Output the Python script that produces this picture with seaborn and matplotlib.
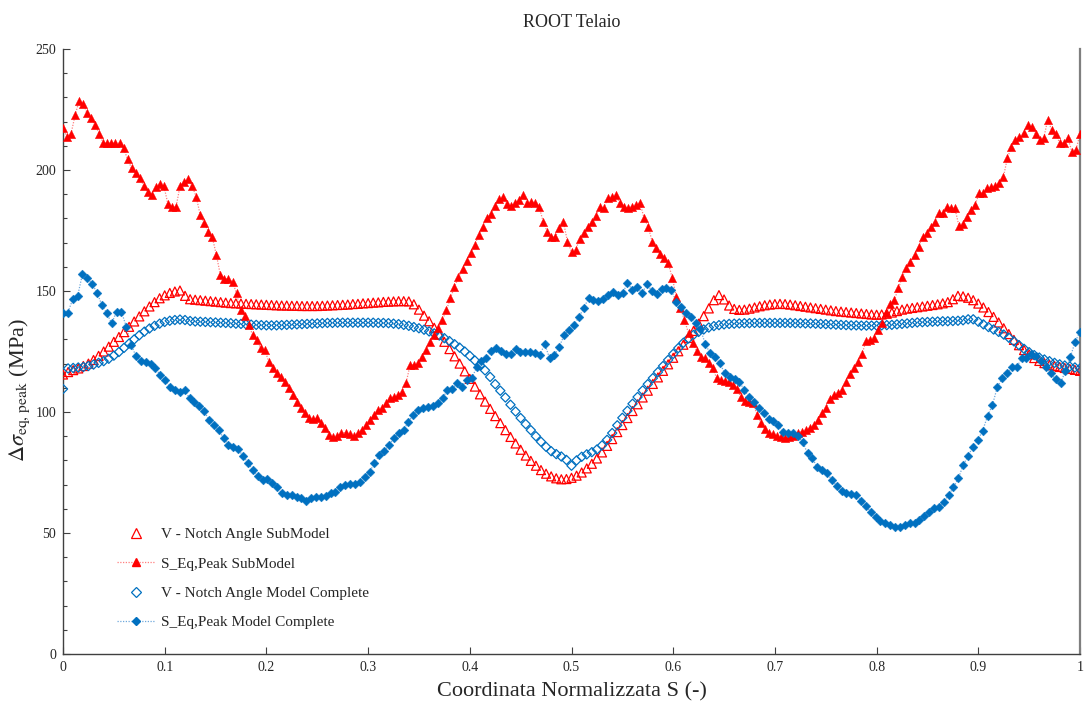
import numpy as np
import matplotlib
matplotlib.use("Agg")
import matplotlib.pyplot as plt
from matplotlib.lines import Line2D
from matplotlib.ticker import MultipleLocator
import seaborn as sns

# ---- data -------------------------------------------------------------
# V-notch angle, sub-model (hollow red triangles), S = 0 .. 1 step 0.005
v_notch_sub = [
    115.5, 116.5, 117.3, 118.0, 119.0, 120.0, 121.5, 123.2, 125.0, 127.0,
    129.0, 131.0, 133.0, 135.2, 137.4, 139.5, 141.6, 143.6, 145.4, 147.0,
    148.2, 149.2, 149.8, 150.2, 148.0, 146.6, 146.4, 146.2, 146.0, 145.8,
    145.6, 145.4, 145.2, 145.0, 144.9, 144.8, 144.7, 144.6, 144.5, 144.4,
    144.3, 144.2, 144.1, 144.0, 144.0, 143.9, 143.9, 143.8, 143.8, 143.8,
    143.8, 143.9, 144.0, 144.1, 144.2, 144.3, 144.4, 144.6, 144.7, 144.9,
    145.0, 145.2, 145.3, 145.5, 145.6, 145.7, 145.8, 145.8, 145.7, 144.5,
    142.3, 139.8, 137.5, 134.8, 132.0, 129.0, 126.0, 123.0, 120.0, 116.8,
    113.7, 110.5, 107.3, 104.3, 101.3, 98.3, 95.4, 92.5, 89.7, 87.0,
    84.4, 82.0, 79.8, 77.8, 76.0, 74.5, 73.4, 72.6, 72.2, 72.3,
    72.8, 73.7, 75.0, 76.7, 78.6, 80.8, 83.3, 86.0, 88.8, 91.7,
    94.6, 97.5, 100.4, 103.2, 106.0, 108.8, 111.6, 114.3, 117.0, 119.7,
    122.4, 125.1, 127.8, 130.6, 133.5, 136.5, 139.6, 142.8, 146.2, 148.3,
    146.5, 144.0, 142.6, 142.2, 142.3, 142.7, 143.2, 143.7, 144.1, 144.4,
    144.6, 144.7, 144.6, 144.4, 144.1, 143.8, 143.5, 143.2, 142.9, 142.6,
    142.3, 142.0, 141.7, 141.5, 141.3, 141.1, 140.9, 140.7, 140.5, 140.3,
    140.2, 140.3, 140.6, 141.1, 141.7, 142.3, 142.7, 143.0, 143.3, 143.6,
    143.9, 144.2, 144.5, 144.9, 145.4, 146.6, 148.0, 147.8, 147.2, 146.2,
    144.8, 143.2, 141.3, 139.3, 137.0, 134.6, 132.2, 129.8, 127.6, 125.6,
    123.8, 122.3, 121.1, 120.2, 119.5, 119.0, 118.6, 118.2, 117.8, 117.4,
    117.0,
]

# Equivalent peak stress, sub-model (filled red triangles)
s_eq_sub = [
    217.2, 213.8, 215.0, 222.7, 228.6, 227.3, 223.4, 221.3, 218.6, 214.9,
    211.0, 211.0, 211.0, 211.0, 211.0, 209.0, 204.5, 200.7, 198.6, 196.8,
    193.5, 191.0, 189.7, 193.1, 194.2, 193.4, 185.9, 184.8, 184.6, 193.4,
    195.2, 196.2, 193.4, 189.0, 181.4, 178.2, 174.5, 172.2, 164.9, 156.6,
    155.0, 154.8, 153.8, 149.0, 142.1, 139.7, 136.0, 131.8, 129.8, 126.3,
    125.6, 120.8, 118.0, 116.0, 114.6, 112.5, 109.8, 107.0, 104.3, 101.5,
    99.5, 97.4, 97.0, 97.4, 95.3, 93.3, 90.5, 89.5, 90.1, 91.2,
    91.5, 90.8, 90.1, 91.2, 92.6, 94.6, 96.7, 98.8, 100.8, 101.5,
    103.6, 105.7, 106.3, 107.0, 108.4, 111.9, 119.4, 119.4, 120.1, 122.6,
    125.6, 129.1, 131.8, 134.6, 138.0, 142.1, 147.0, 151.8, 155.6, 159.0,
    162.5, 165.6, 169.0, 173.1, 176.6, 180.0, 181.7, 185.1, 187.9, 188.7,
    185.9, 185.1, 186.5, 187.6, 189.7, 186.2, 186.9, 186.2, 184.6, 178.6,
    174.5, 172.4, 172.4, 175.9, 178.6, 170.4, 166.3, 166.9, 171.4, 174.1,
    176.6, 178.6, 181.0, 184.8, 184.2, 188.3, 188.7, 189.7, 186.2, 184.8,
    184.2, 184.8, 185.5, 186.2, 180.0, 176.6, 170.4, 167.6, 165.3, 163.5,
    161.4, 155.2, 147.6, 142.8, 138.0, 132.5, 128.4, 125.3, 122.9, 122.2,
    120.1, 118.0, 113.9, 113.2, 112.8, 112.5, 111.2, 109.4, 106.1, 104.7,
    104.3, 103.6, 98.8, 95.3, 92.9, 91.5, 90.8, 90.1, 89.5, 89.1,
    89.5, 90.1, 91.2, 91.9, 92.6, 93.3, 94.6, 96.7, 99.5, 101.5,
    105.2, 107.0, 108.0, 109.1, 112.5, 115.7, 118.0, 120.8, 124.0, 129.5,
    129.8, 130.5, 133.9, 136.9, 140.8, 144.6, 146.3, 151.1, 155.9, 159.4,
    162.1, 164.9, 168.3, 172.4, 173.8, 176.6, 178.6, 182.1, 182.1, 184.8,
    184.2, 184.2, 176.9, 177.7, 180.7, 183.5, 185.5, 190.4, 190.4, 192.4,
    193.1, 193.4, 194.8, 197.0, 204.8, 209.6, 212.4, 213.8, 215.1, 218.6,
    217.9, 214.9, 212.4, 213.1, 220.7, 216.5, 214.9, 211.0, 211.2, 213.1,
    207.6, 208.3, 214.9,
]

# V-notch angle, complete model (hollow blue diamonds), S = 0 .. 1 step 0.005
v_notch_full = [
    109.5, 118.0, 118.2, 118.4, 118.6, 119.0, 119.6, 120.3, 121.0, 122.0,
    123.3, 124.8, 126.5, 128.3, 130.0, 131.7, 133.2, 134.5, 135.6, 136.5,
    137.2, 137.7, 138.0, 138.2, 138.0, 137.6, 137.4, 137.3, 137.2, 137.1,
    137.0, 136.9, 136.8, 136.7, 136.5, 136.4, 136.2, 136.1, 136.0, 135.9,
    135.8, 135.8, 135.8, 135.9, 136.0, 136.1, 136.2, 136.3, 136.4, 136.5,
    136.6, 136.7, 136.8, 136.8, 136.9, 136.9, 136.9, 136.9, 136.9, 136.9,
    136.9, 136.9, 136.8, 136.8, 136.7, 136.5, 136.3, 136.0, 135.6, 135.1,
    134.6, 134.0, 133.3, 132.5, 131.6, 130.5, 129.3, 128.0, 126.6, 125.0,
    123.2, 121.3, 119.3, 117.2, 114.5, 111.5, 108.8, 106.0, 103.0, 100.2,
    97.5, 95.0, 92.5, 90.0, 87.7, 85.6, 83.8, 82.6, 81.6, 80.2,
    77.8, 80.0, 81.5, 82.5, 83.4, 84.5, 86.2, 88.5, 91.3, 94.5,
    97.6, 100.5, 103.4, 106.2, 108.9, 111.5, 114.0, 116.5, 119.0, 121.5,
    124.0, 126.4, 128.6, 130.4, 131.9, 133.1, 134.1, 134.9, 135.5, 135.9,
    136.2, 136.4, 136.5, 136.6, 136.7, 136.7, 136.8, 136.8, 136.8, 136.8,
    136.8, 136.8, 136.8, 136.8, 136.7, 136.7, 136.6, 136.6, 136.5, 136.4,
    136.3, 136.2, 136.1, 136.0, 135.9, 135.8, 135.8, 135.7, 135.7, 135.7,
    135.7, 135.8, 135.9, 136.0, 136.2, 136.4, 136.6, 136.8, 137.0, 137.1,
    137.2, 137.3, 137.4, 137.5, 137.5, 137.6, 137.7, 137.9, 138.3, 138.3,
    137.3, 136.2, 135.1, 134.1, 133.1, 132.0, 130.7, 129.2, 127.6, 126.1,
    124.7, 123.5, 122.5, 121.7, 121.0, 120.3, 119.7, 119.2, 118.8, 118.4,
    118.0,
]

# Equivalent peak stress, complete model (filled blue diamonds)
s_eq_full = [
    140.8, 141.1, 146.6, 147.9, 157.0, 155.2, 152.9, 149.3, 144.1, 140.8,
    136.6, 141.5, 141.5, 135.3, 127.7, 123.1, 121.2, 120.8, 119.8, 118.0,
    115.3, 113.2, 110.5, 109.1, 108.4, 109.1, 105.7, 104.3, 102.5, 100.4,
    96.7, 94.6, 92.6, 89.1, 86.4, 85.7, 84.6, 81.8, 79.1, 76.0,
    73.6, 71.9, 72.2, 70.5, 68.9, 66.4, 65.7, 65.7, 64.7, 64.3,
    63.4, 64.3, 64.7, 64.7, 65.3, 66.4, 67.1, 68.9, 69.8, 70.2,
    70.2, 71.2, 73.3, 75.3, 78.8, 82.2, 84.0, 86.4, 89.1, 91.2,
    92.6, 96.0, 98.8, 100.8, 101.5, 102.2, 102.5, 103.6, 105.7, 109.1,
    109.4, 112.1, 110.5, 113.2, 113.9, 118.5, 121.2, 122.2, 125.3, 126.3,
    125.3, 124.0, 124.0, 125.9, 125.0, 125.0, 125.0, 124.2, 123.6, 128.1,
    122.2, 123.6, 127.0, 131.8, 133.9, 136.0, 139.1, 142.8, 147.0, 146.3,
    146.0, 146.6, 148.3, 149.7, 148.3, 149.0, 153.4, 150.4, 151.5, 149.0,
    152.9, 150.1, 148.8, 150.7, 151.1, 150.4, 145.6, 143.5, 141.1, 139.1,
    136.9, 134.2, 128.1, 124.2, 122.6, 120.1, 116.0, 114.3, 113.5, 112.5,
    109.1, 106.3, 104.3, 101.5, 99.5, 97.0, 96.4, 94.6, 91.9, 91.5,
    91.5, 90.1, 87.7, 82.9, 80.9, 77.1, 76.0, 74.9, 71.9, 69.4,
    67.5, 66.7, 66.1, 65.7, 63.4, 61.2, 58.8, 56.5, 55.1, 54.0,
    53.3, 52.6, 52.6, 53.3, 54.0, 54.3, 55.4, 57.0, 58.8, 60.2,
    60.9, 62.9, 65.7, 68.9, 72.6, 78.1, 81.8, 85.7, 88.4, 92.3,
    98.3, 102.9, 110.2, 113.9, 116.0, 118.5, 118.5, 122.2, 122.2, 124.0,
    123.0, 121.0, 118.5, 116.0, 113.5, 111.9, 117.0, 122.6, 129.0, 133.2,
]

labels = [
    "V - Notch Angle SubModel",
    "S_Eq,Peak SubModel",
    "V - Notch Angle Model Complete",
    "S_Eq,Peak Model Complete",
]
x_ticks = [0, 0.1, 0.2, 0.3, 0.4, 0.5, 0.6, 0.7, 0.8, 0.9, 1]
y_ticks = [0, 50, 100, 150, 200, 250]

RED = "#FF0000"
BLUE = "#0070C0"

# ---- figure -----------------------------------------------------------
sns.set_theme(style="white")
plt.rcParams["font.family"] = ["Liberation Serif", "DejaVu Serif"]
plt.rcParams["mathtext.fontset"] = "stix"

fig, ax = plt.subplots(figsize=(10.86, 7.06), dpi=100)
fig.subplots_adjust(left=63 / 1086, right=1080 / 1086,
                    bottom=1 - 654 / 706, top=1 - 49 / 706)


def s_axis(values):
    return np.linspace(0.0, 1.0, len(values))


# dotted connecting lines of the stress series
sns.lineplot(x=s_axis(s_eq_sub), y=s_eq_sub, ax=ax, sort=False,
             color="#FF7F7F", linestyle=(0, (1, 1.2)), linewidth=0.9,
             estimator=None)
sns.lineplot(x=s_axis(s_eq_full), y=s_eq_full, ax=ax, sort=False,
             color="#6FA8DC", linestyle=(0, (1, 1.2)), linewidth=0.9,
             estimator=None)

# V-notch series: hollow markers only
sns.scatterplot(x=s_axis(v_notch_sub), y=v_notch_sub, ax=ax, marker="^",
                s=42, facecolors="none", edgecolor=RED, linewidth=0.9,
                zorder=3)
sns.scatterplot(x=s_axis(v_notch_full), y=v_notch_full, ax=ax, marker="D",
                s=22, facecolors="none", edgecolor=BLUE, linewidth=0.9,
                zorder=3)

# stress series: filled markers
sns.scatterplot(x=s_axis(s_eq_sub), y=s_eq_sub, ax=ax, marker="^",
                s=36, color=RED, edgecolor=RED, linewidth=0.3, zorder=4)
sns.scatterplot(x=s_axis(s_eq_full), y=s_eq_full, ax=ax, marker="D",
                s=20, color=BLUE, edgecolor=BLUE, linewidth=0.3, zorder=4)

# ---- axes -------------------------------------------------------------
ax.set_xlim(0, 1)
ax.set_ylim(0, 250)
ax.set_xticks(x_ticks)
ax.set_xticklabels([f"{t:g}" for t in x_ticks])
ax.set_yticks(y_ticks)
ax.yaxis.set_minor_locator(MultipleLocator(10))
ax.tick_params(axis="both", which="major", direction="in", length=5,
               width=0.8, color="#404040", labelsize=10, pad=5,
               bottom=True, left=True)
ax.tick_params(axis="y", which="minor", direction="in", length=3,
               width=0.8, color="#404040", left=True)
ax.grid(False)

for side in ("left", "bottom"):
    ax.spines[side].set_color("#404040")
    ax.spines[side].set_linewidth(1.0)
ax.spines["right"].set_color("#7F7F7F")
ax.spines["right"].set_linewidth(1.6)
ax.spines["top"].set_visible(False)

ax.set_title("ROOT Telaio", fontsize=13, pad=16)
ax.set_xlabel("Coordinata Normalizzata S (-)", fontsize=16, labelpad=6)
ax.set_ylabel(r"$\Delta\sigma_{\mathrm{eq,\,peak}}$ (MPa)", fontsize=16)
ax.yaxis.set_label_coords(-0.030, 0.436)

# ---- legend -----------------------------------------------------------
handles = [
    Line2D([], [], linestyle="none", marker="^", markersize=6.5,
           markerfacecolor="none", markeredgecolor=RED, markeredgewidth=0.9),
    Line2D([], [], color="#FF7F7F", linestyle=(0, (1, 1.2)), linewidth=0.9,
           marker="^", markersize=6, markerfacecolor=RED,
           markeredgecolor=RED),
    Line2D([], [], linestyle="none", marker="D", markersize=4.7,
           markerfacecolor="none", markeredgecolor=BLUE, markeredgewidth=0.9),
    Line2D([], [], color="#6FA8DC", linestyle=(0, (1, 1.2)), linewidth=0.9,
           marker="D", markersize=4.5, markerfacecolor=BLUE,
           markeredgecolor=BLUE),
]
ax.legend(handles, labels, loc="upper left",
          bbox_to_anchor=(0.047, 0.219), frameon=False, fontsize=11,
          handlelength=2.5, handletextpad=0.4, labelspacing=1.02,
          borderaxespad=0)

fig.savefig("out.png", dpi=100)
